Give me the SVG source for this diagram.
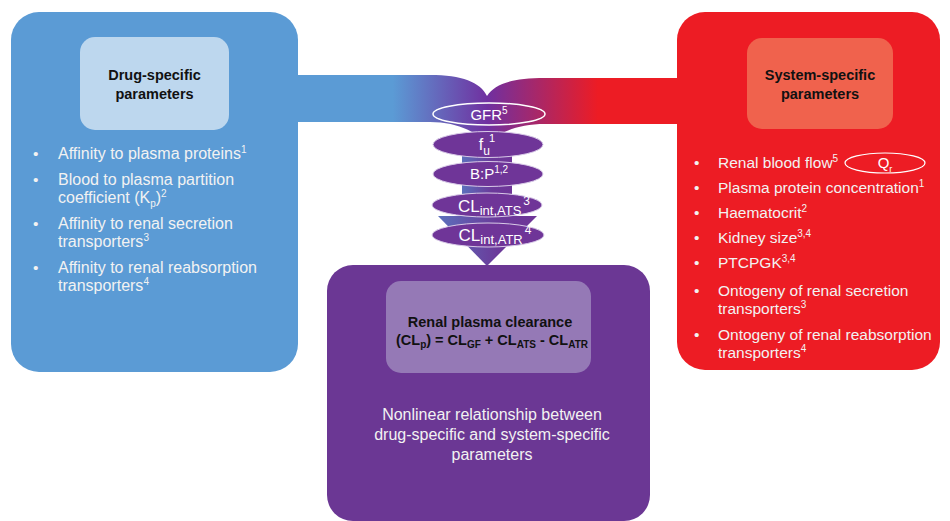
<svg xmlns="http://www.w3.org/2000/svg" width="950" height="521" viewBox="0 0 950 521">
<defs>
<linearGradient id="band" gradientUnits="userSpaceOnUse" x1="290" y1="0" x2="685" y2="0">
<stop offset="0.26" stop-color="#5B9BD5"/>
<stop offset="0.50" stop-color="#7030A0"/>
<stop offset="0.78" stop-color="#ED1C24"/>
</linearGradient>
<linearGradient id="stem" x1="0" y1="0" x2="1" y2="0">
<stop offset="0" stop-color="#5C70BC"/>
<stop offset="0.6" stop-color="#6B3A9A"/>
<stop offset="1" stop-color="#6F3598"/>
</linearGradient>
<style>
.t{font-family:"Liberation Sans",Arial,sans-serif;}
.hd{font-family:"Liberation Sans",Arial,sans-serif;font-weight:bold;font-size:14.5px;fill:#111;text-anchor:middle;}
.bl{font-family:"Liberation Sans",Arial,sans-serif;font-size:15.5px;fill:#F2F2F2;}
.el{fill:#6F3598;stroke:#D9CBE8;stroke-width:1;}
.et{font-family:"Liberation Sans",Arial,sans-serif;fill:#FFFFFF;text-anchor:middle;}
</style>
</defs>

<g id="drug-specific">
<rect x="11" y="12" width="287" height="360" rx="28" fill="#5B9BD5"/>
<rect x="80" y="37" width="149" height="93" rx="15" fill="#BDD7EE"/>
<text class="hd" x="154.5" y="80">Drug-specific</text>
<text class="hd" x="154.5" y="99">parameters</text>
<g class="bl">
<text x="33" y="159">•</text><text x="58" y="159" font-size="16">Affinity to plasma proteins<tspan dy="-6" font-size="10">1</tspan></text>
<text x="33" y="185">•</text><text x="58" y="185" font-size="16">Blood to plasma partition</text>
<text x="58" y="203" font-size="16">coefficient (K<tspan dy="4" font-size="10">p</tspan><tspan dy="-4">)</tspan><tspan dy="-6" font-size="10">2</tspan></text>
<text x="33" y="229">•</text><text x="58" y="229" font-size="16">Affinity to renal secretion</text>
<text x="58" y="247" font-size="16">transporters<tspan dy="-6" font-size="10">3</tspan></text>
<text x="33" y="273">•</text><text x="58" y="273" font-size="16">Affinity to renal reabsorption</text>
<text x="58" y="291" font-size="16">transporters<tspan dy="-6" font-size="10">4</tspan></text>
</g>
</g>

<g id="system-specific">
<rect x="677" y="12" width="263" height="358" rx="28" fill="#ED1C24"/>
<rect x="747" y="38" width="146" height="91" rx="15" fill="#F0624D"/>
<text class="hd" x="820" y="80">System-specific</text>
<text class="hd" x="820" y="99">parameters</text>
<g class="bl">
<text x="694" y="168">•</text><text x="718" y="168">Renal blood flow<tspan dy="-6" font-size="10">5</tspan></text>
<text x="694" y="193">•</text><text x="718" y="193">Plasma protein concentration<tspan dy="-6" font-size="10">1</tspan></text>
<text x="694" y="218">•</text><text x="718" y="218">Haematocrit<tspan dy="-6" font-size="10">2</tspan></text>
<text x="694" y="243">•</text><text x="718" y="243">Kidney size<tspan dy="-6" font-size="10">3,4</tspan></text>
<text x="694" y="268">•</text><text x="718" y="268">PTCPGK<tspan dy="-6" font-size="10">3,4</tspan></text>
<text x="694" y="296">•</text><text x="718" y="296">Ontogeny of renal secretion</text>
<text x="718" y="314">transporters<tspan dy="-6" font-size="10">3</tspan></text>
<text x="694" y="340">•</text><text x="718" y="340">Ontogeny of renal reabsorption</text>
<text x="718" y="358">transporters<tspan dy="-6" font-size="10">4</tspan></text>
</g>
<ellipse cx="885" cy="163" rx="40" ry="10" fill="none" stroke="#FFFFFF" stroke-width="1.2"/>
<text class="et" x="885" y="168" font-size="15">Q<tspan dy="4" font-size="9">r</tspan></text>
</g>

<g id="connectors">
<path d="M 290 75 L 430 75 C 462 75 480 82 487 96 C 495 84 512 78 545 78 L 685 78 L 685 124 L 545 124 C 515 124 495 134 488 146 C 480 134 460 122 430 122 L 290 122 Z" fill="url(#band)"/>
<rect x="462" y="154" width="50" height="10" fill="url(#stem)"/>
<rect x="462" y="184" width="50" height="10" fill="url(#stem)"/>
<polygon points="438,216 537,216 487,266" fill="url(#stem)"/>
</g>

<g id="renal-clearance">
<rect x="327" y="265" width="323" height="256" rx="26" fill="#6B3794"/>
<rect x="386" y="281" width="205" height="92" rx="15" fill="#9579B6"/>
<text class="hd" x="490" y="327" font-size="14.5">Renal plasma clearance</text>
<text class="hd" x="492" y="345">(CL<tspan dy="3" font-size="10">p</tspan><tspan dy="-3">) = CL</tspan><tspan dy="3" font-size="10">GF</tspan><tspan dy="-3"> + CL</tspan><tspan dy="3" font-size="10">ATS</tspan><tspan dy="-3"> - CL</tspan><tspan dy="3" font-size="10">ATR</tspan></text>
<g class="t" font-size="16" fill="#F2F2F2" text-anchor="middle">
<text x="492" y="420">Nonlinear relationship between</text>
<text x="492" y="440">drug-specific and system-specific</text>
<text x="492" y="460">parameters</text>
</g>
</g>

<g id="gfr">
<ellipse cx="489" cy="114" rx="56" ry="11" fill="none" stroke="#FFFFFF" stroke-width="1.5"/>
<text class="et" x="489" y="120" font-size="15">GFR<tspan dy="-6" font-size="10">5</tspan></text>
</g>
<g id="fu">
<ellipse class="el" cx="488" cy="144.5" rx="55" ry="13"/>
<text class="et" x="487" y="150" font-size="16">f<tspan dy="5" font-size="12">u</tspan><tspan dy="-13" dx="-1" font-size="11">1</tspan></text>
</g>
<g id="bp">
<ellipse class="el" cx="488" cy="174" rx="55" ry="12.5"/>
<text class="et" x="489" y="179" font-size="15">B:P<tspan dy="-6" font-size="10">1,2</tspan></text>
</g>
<g id="cl-ats">
<ellipse class="el" cx="487" cy="205" rx="55" ry="12"/>
<text class="et" x="494" y="212" font-size="17">CL<tspan dy="3" font-size="13">int,ATS</tspan><tspan dy="-10" dx="2" font-size="12">3</tspan></text>
</g>
<g id="cl-atr">
<ellipse class="el" cx="488" cy="235" rx="56" ry="12"/>
<text class="et" x="495" y="241" font-size="17">CL<tspan dy="3" font-size="13">int,ATR</tspan><tspan dy="-10" dx="2" font-size="12">4</tspan></text>
</g>
</svg>
